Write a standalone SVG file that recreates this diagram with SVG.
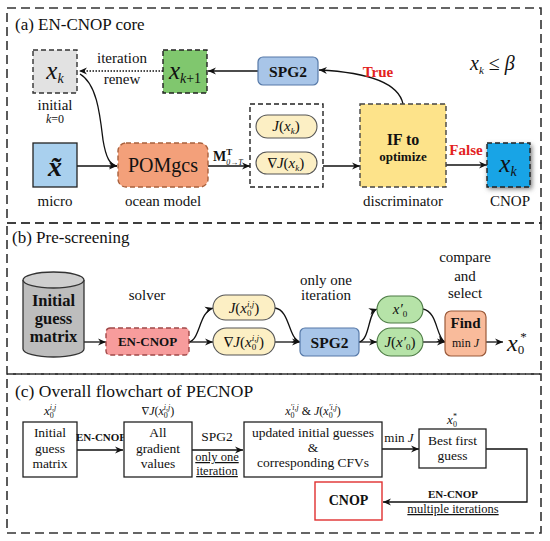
<svg xmlns="http://www.w3.org/2000/svg" width="550" height="541" viewBox="0 0 550 541">
<defs>
<marker id="ah" markerUnits="userSpaceOnUse" markerWidth="10" markerHeight="8" refX="8" refY="4" orient="auto">
<path d="M0,0.5 L8,4 L0,7.5 L2.5,4 z" fill="#111"/>
</marker>
<filter id="sh" x="-30%" y="-30%" width="160%" height="160%">
<feGaussianBlur stdDeviation="2.5"/>
</filter>
</defs>
<style>
text{font-family:"Liberation Serif",Tinos,"Noto Serif","Nimbus Roman","FreeSerif","DejaVu Serif",Times,serif;fill:#111}
.frame{fill:none;stroke:#333;stroke-width:1.6;stroke-dasharray:9,5}
.dash{stroke-dasharray:5,3;stroke-width:1.4}
.arr{fill:none;stroke:#111;stroke-width:1.3;marker-end:url(#ah)}
.it{font-style:italic}
.b{font-weight:bold}
.red{fill:#e32222}
.mid{text-anchor:middle}
.box{fill:#fff;stroke:#222;stroke-width:1.3}
</style>
<rect width="550" height="541" fill="#fff"/>

<!-- frames -->
<g id="frames">
<rect class="frame" x="7" y="8" width="534" height="215"/>
<rect class="frame" x="7" y="223" width="534" height="151"/>
<rect class="frame" x="7" y="374" width="534" height="159"/>
<text x="15" y="30" font-size="17">(a) EN-CNOP core</text>
<text x="12" y="243" font-size="17">(b) Pre-screening</text>
<text x="15" y="397" font-size="17.5">(c) Overall flowchart of PECNOP</text>
</g>

<!-- connectors -->
<g id="connectors">
<path class="arr" d="M163,71 L79,71" stroke-dasharray="1.5,1.5"/>
<path class="arr" d="M258,71 L208,71"/>
<path class="arr" d="M403,104 C398,80 360,72 319,70"/>
<path class="arr" d="M77,166 L117,166"/>
<path class="arr" d="M80,74 C97,84 100,115 103,140 C106,158 110,165 117,166"/>
<path class="arr" d="M208,166 L250,166"/>
<path class="arr" d="M323,166 L360,166"/>
<path class="arr" d="M446,165 L487,165"/>
<path class="arr" d="M84,342 L106,342"/>
<path class="arr" d="M189,342 L213,342"/>
<path class="arr" d="M189,342 C200,340 199,312 213,308"/>
<path class="arr" d="M275,342 L300,342"/>
<path class="arr" d="M275,308 C290,310 288,338 300,342"/>
<path class="arr" d="M359,342 L377,342"/>
<path class="arr" d="M359,342 C370,340 368,312 377,309"/>
<path class="arr" d="M423,342 L445,342"/>
<path class="arr" d="M423,309 C438,312 436,338 445,342"/>
<path class="arr" d="M486,342 L503,342"/>
<path class="arr" d="M77,450 L123,450"/>
<path class="arr" d="M192,450 L243,450"/>
<path class="arr" d="M382,449 L419,449"/>
<path class="arr" d="M486,449 L527,449 L527,502 L383,502"/>
</g>

<!-- (a) nodes -->
<g id="xk-initial">
<rect x="33" y="50" width="44" height="43" fill="#e2e2e2" stroke="#333" class="dash"/>
<text x="55" y="79" font-size="25" class="it mid">x<tspan font-size="14" dy="4">k</tspan></text>
<text x="55" y="110" font-size="15" class="mid">initial</text>
<text x="55" y="123" font-size="12" class="it mid">k<tspan font-style="normal">=0</tspan></text>
</g>
<g id="iter-label">
<text x="122" y="63" font-size="15" class="mid">iteration</text>
<text x="122" y="84" font-size="15" class="mid">renew</text>
</g>
<g id="xk1">
<rect x="163" y="50" width="44" height="43" fill="#80c76e" stroke="#222" class="dash"/>
<text x="185" y="79" font-size="25" class="it mid">x<tspan font-size="14" dy="4">k</tspan><tspan font-size="14" font-style="normal">+1</tspan></text>
</g>
<g id="spg2-a">
<rect x="258" y="57" width="60" height="28" rx="5" fill="#a8c5e8" stroke="#5679a8" stroke-width="1.2"/>
<text x="288" y="77" font-size="15.5" class="b mid">SPG2</text>
</g>
<g id="true-label">
<text x="378" y="77" font-size="15" class="b mid red">True</text>
</g>
<g id="cond">
<text x="470" y="70" font-size="20" class="it">x<tspan font-size="11" dy="4">k</tspan><tspan dy="-4" font-style="normal"> ≤ </tspan>β</text>
</g>
<g id="xtilde">
<rect x="33" y="143" width="44" height="44" fill="#a9d0ee" stroke="#222" stroke-width="1.3"/>
<text x="55" y="176" font-size="28" class="it b mid">x̃</text>
<text x="55" y="206" font-size="15" class="mid">micro</text>
</g>
<g id="pomgcs">
<rect x="118" y="143" width="90" height="44" rx="8" fill="#f3a07a" stroke="#a8603c" class="dash"/>
<text x="163" y="172" font-size="20" class="mid">POMgcs</text>
<text x="163" y="206" font-size="15" class="mid">ocean model</text>
</g>
<g id="mop">
<text x="213" y="161" font-size="14" class="b">M<tspan font-size="9" dy="-6">T</tspan><tspan font-size="8" font-weight="normal" font-style="italic" dx="-6" dy="10">0→T</tspan></text>
</g>
<g id="jbox">
<rect x="250" y="104" width="73" height="83" fill="#fff" stroke="#222" class="dash"/>
<rect x="256" y="115" width="61" height="23" rx="11.5" fill="#fcefc4" stroke="#555" stroke-width="1.1"/>
<rect x="256" y="152" width="61" height="22" rx="11" fill="#fcefc4" stroke="#555" stroke-width="1.1"/>
<text x="286" y="131" font-size="15" class="mid"><tspan class="it">J</tspan>(<tspan class="it">x</tspan><tspan class="it" font-size="9" dy="3">k</tspan><tspan dy="-3">)</tspan></text>
<text x="286" y="168" font-size="15" class="mid">∇<tspan class="it">J</tspan>(<tspan class="it">x</tspan><tspan class="it" font-size="9" dy="3">k</tspan><tspan dy="-3">)</tspan></text>
</g>
<g id="ifopt">
<rect x="360" y="104" width="86" height="83" fill="#fde38a" stroke="#444" class="dash"/>
<text x="403" y="145" font-size="16" class="b mid">IF to</text>
<text x="403" y="161" font-size="13" class="b mid">optimize</text>
<text x="403" y="206" font-size="15" class="mid">discriminator</text>
</g>
<g id="false-label">
<text x="466" y="155" font-size="15" class="b mid red">False</text>
</g>
<g id="cnop-a">
<rect x="488" y="145" width="44" height="44" fill="#777" filter="url(#sh)"/>
<rect x="487" y="143" width="43" height="44" fill="#18a4e6" stroke="#222" class="dash"/>
<text x="508" y="172" font-size="25" class="it mid">x<tspan font-size="14" dy="4">k</tspan></text>
<text x="510" y="206" font-size="15" class="mid">CNOP</text>
</g>

<!-- (b) nodes -->
<g id="cyl">
<path d="M23,280 L23,349 A30.5,8 0 0 0 84,349 L84,280" fill="#bdbdbd" stroke="#333" stroke-width="1.3"/>
<ellipse cx="53.5" cy="280" rx="30.5" ry="8" fill="#cfcfcf" stroke="#333" stroke-width="1.3"/>
<text x="53.5" y="306" font-size="16.5" class="b mid">Initial</text>
<text x="53.5" y="324" font-size="16.5" class="b mid">guess</text>
<text x="53.5" y="342" font-size="16.5" class="b mid">matrix</text>
</g>
<g id="solver-label"><text x="147" y="300" font-size="15" class="mid">solver</text></g>
<g id="encnop-b">
<rect x="106" y="328" width="83" height="27" rx="4" fill="#f79c9c" stroke="#a04848" class="dash"/>
<text x="147.5" y="346" font-size="13" class="b mid">EN-CNOP</text>
</g>
<g id="pill-j">
<rect x="213" y="295" width="62" height="25" rx="12.5" fill="#fcefc4" stroke="#555" stroke-width="1.1"/>
<text x="244" y="313" font-size="15" class="mid"><tspan class="it">J</tspan>(<tspan class="it">x</tspan><tspan font-size="9" dy="3">0</tspan><tspan class="it" font-size="9" dx="-4.5" dy="-9">i,j</tspan><tspan dy="6">)</tspan></text>
</g>
<g id="pill-gj">
<rect x="213" y="328" width="62" height="27" rx="13.5" fill="#fcefc4" stroke="#555" stroke-width="1.1"/>
<text x="244" y="347" font-size="15" class="mid">∇<tspan class="it">J</tspan>(<tspan class="it">x</tspan><tspan font-size="9" dy="3">0</tspan><tspan class="it" font-size="9" dx="-4.5" dy="-9">i,j</tspan><tspan dy="6">)</tspan></text>
</g>
<g id="iter1-label">
<text x="326" y="285" font-size="15" class="mid">only one</text>
<text x="326" y="300" font-size="15" class="mid">iteration</text>
</g>
<g id="spg2-b">
<rect x="300" y="328" width="59" height="28" rx="5" fill="#a8c5e8" stroke="#5679a8" stroke-width="1.2"/>
<text x="329.5" y="348" font-size="15.5" class="b mid">SPG2</text>
</g>
<g id="pill-x0p">
<rect x="377" y="296" width="46" height="27" rx="13.5" fill="#b6e3a8" stroke="#4c7a44" stroke-width="1.1"/>
<text x="400" y="314" font-size="15" class="it mid">x′<tspan font-style="normal" font-size="9" dy="3">0</tspan></text>
</g>
<g id="pill-jx0p">
<rect x="377" y="328" width="46" height="28" rx="14" fill="#b6e3a8" stroke="#4c7a44" stroke-width="1.1"/>
<text x="400" y="347" font-size="15" class="mid"><tspan class="it">J</tspan>(<tspan class="it">x′</tspan><tspan font-size="9" dy="3">0</tspan><tspan dy="-3">)</tspan></text>
</g>
<g id="find">
<rect x="445" y="311" width="41" height="45" rx="6" fill="#f9bb9b" stroke="#9a5a3a" stroke-width="1.2"/>
<text x="465.5" y="328" font-size="15" class="b mid">Find</text>
<text x="465.5" y="347" font-size="12" class="mid">min <tspan class="it">J</tspan></text>
<text x="465" y="262" font-size="15" class="mid">compare</text>
<text x="465" y="281" font-size="15" class="mid">and</text>
<text x="465" y="298" font-size="15" class="mid">select</text>
</g>
<g id="xstar-b">
<text x="507" y="351" font-size="24" class="it">x<tspan font-style="normal" font-size="13" dy="3">0</tspan><tspan font-style="normal" font-size="13" dx="-4" dy="-13">*</tspan></text>
</g>

<!-- (c) nodes -->
<g id="c-initial">
<rect class="box" x="23" y="422" width="54" height="55"/>
<text x="50" y="437" font-size="13.5" class="mid">Initial</text>
<text x="50" y="453" font-size="13.5" class="mid">guess</text>
<text x="50" y="468" font-size="13.5" class="mid">matrix</text>
<text x="50" y="415" font-size="13" class="it mid">x<tspan font-style="normal" font-size="8" dy="3">0</tspan><tspan font-size="8" dx="-4" dy="-8">i,j</tspan></text>
</g>
<g id="c-encnop-label"><text x="101" y="441" font-size="11" class="b mid">EN-CNOP</text></g>
<g id="c-grad">
<rect class="box" x="124" y="422" width="68" height="55"/>
<text x="158" y="437" font-size="13.5" class="mid">All</text>
<text x="158" y="453" font-size="13.5" class="mid">gradient</text>
<text x="158" y="468" font-size="13.5" class="mid">values</text>
<text x="158" y="415" font-size="12" class="mid">∇<tspan class="it">J</tspan>(<tspan class="it">x</tspan><tspan font-size="8" dy="3">0</tspan><tspan class="it" font-size="8" dx="-4" dy="-8">i,j</tspan><tspan dy="5">)</tspan></text>
</g>
<g id="c-spg2-label">
<text x="217" y="441" font-size="13.5" class="mid">SPG2</text>
<text x="217" y="461" font-size="12.5" class="mid" text-decoration="underline">only one</text>
<text x="217" y="475" font-size="12.5" class="mid" text-decoration="underline">iteration</text>
</g>
<g id="c-updated">
<rect class="box" x="244" y="422" width="138" height="55"/>
<text x="313" y="437" font-size="13.5" class="mid">updated initial guesses</text>
<text x="313" y="452" font-size="13.5" class="mid">&amp;</text>
<text x="313" y="467" font-size="13.5" class="mid">corresponding CFVs</text>
<text x="313" y="415" font-size="12" class="mid"><tspan class="it">x</tspan><tspan font-size="8" dy="3">0</tspan><tspan class="it" font-size="8" dx="-4" dy="-8">′i,j</tspan><tspan dy="5">   &amp;   </tspan><tspan class="it">J</tspan>(<tspan class="it">x</tspan><tspan font-size="8" dy="3">0</tspan><tspan class="it" font-size="8" dx="-4" dy="-8">′i,j</tspan><tspan dy="5">)</tspan></text>
</g>
<g id="c-minj-label"><text x="399" y="442" font-size="13" class="mid">min <tspan class="it">J</tspan></text></g>
<g id="c-best">
<rect class="box" x="419" y="429" width="67" height="39"/>
<text x="452.5" y="445" font-size="13.5" class="mid">Best first</text>
<text x="452.5" y="460" font-size="13.5" class="mid">guess</text>
<text x="452" y="424" font-size="13" class="it mid">x<tspan font-style="normal" font-size="8" dy="3">0</tspan><tspan font-style="normal" font-size="8" dx="-4" dy="-8">*</tspan></text>
</g>
<g id="c-cnop">
<rect x="315" y="482" width="67" height="38" fill="#fff" stroke="#e03030" stroke-width="1.4"/>
<text x="348.5" y="505" font-size="14" class="b mid">CNOP</text>
</g>
<g id="c-multi-label">
<text x="453" y="498" font-size="11" class="b mid">EN-CNOP</text>
<text x="453" y="513" font-size="12.5" class="mid" text-decoration="underline">multiple iterations</text>
</g>
</svg>
